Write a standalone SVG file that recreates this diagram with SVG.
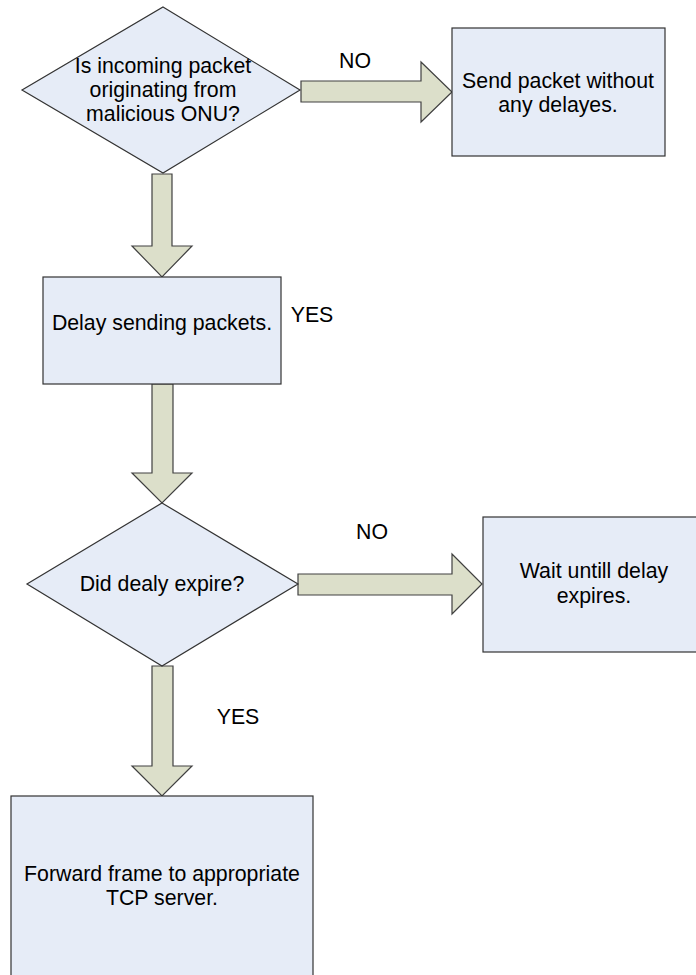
<svg xmlns="http://www.w3.org/2000/svg" width="696" height="975" viewBox="0 0 696 975">
  <style>
    .shape { fill: #E6ECF7; stroke: #333333; stroke-width: 1.2; }
    .flow { fill: #DCDFCA; stroke: #404040; stroke-width: 1.2; stroke-linejoin: miter; }
    text { font-family: "Liberation Sans", Arial, sans-serif; font-size: 21.3px; fill: #000000; }
    .c { text-anchor: middle; }
  </style>
  <rect width="696" height="975" fill="#FFFFFF"/>

  <!-- block arrows between steps -->
  <g id="connectors">
    <!-- decision 1 -> NO -> send without delay -->
    <polygon class="flow" points="301,81 421,81 421,62 452,92 421,122 421,102 301,102"/>
    <!-- decision 1 -> delay -->
    <polygon class="flow" points="152,174 172,174 172,246 192,246 162,277 132,246 152,246"/>
    <!-- delay -> decision 2 -->
    <polygon class="flow" points="152,384 173,384 173,473 192,473 162,503 132,473 152,473"/>
    <!-- decision 2 -> NO -> wait -->
    <polygon class="flow" points="298,574 452,574 452,554 482,584 452,614 452,595 298,595"/>
    <!-- decision 2 -> YES -> forward -->
    <polygon class="flow" points="152,666 173,666 173,766 192,766 162,796 132,766 152,766"/>
    <text x="355" y="68" class="c">NO</text>
    <text x="312" y="322" class="c">YES</text>
    <text x="372" y="539" class="c">NO</text>
    <text x="238" y="724" class="c">YES</text>
  </g>

  <g id="check-malicious">
    <polygon class="shape" points="163,7 300,90 163,173 22,90"/>
    <text x="163" y="73" class="c">Is incoming packet</text>
    <text x="163" y="97" class="c">originating from</text>
    <text x="163" y="121" class="c">malicious ONU?</text>
  </g>

  <g id="send-direct">
    <rect class="shape" x="452" y="28" width="213" height="128"/>
    <text x="558" y="88" class="c">Send packet without</text>
    <text x="558" y="112" class="c">any delayes.</text>
  </g>

  <g id="delay-sending">
    <rect class="shape" x="43" y="277" width="238" height="107"/>
    <text x="162" y="330" class="c">Delay sending packets.</text>
  </g>

  <g id="check-expired">
    <polygon class="shape" points="162,503 298,584 162,666 27,584"/>
    <text x="162" y="591" class="c">Did dealy expire?</text>
  </g>

  <g id="wait-delay">
    <rect class="shape" x="483" y="517" width="215" height="135"/>
    <text x="594" y="578" class="c">Wait untill delay</text>
    <text x="594" y="603" class="c">expires.</text>
  </g>

  <g id="forward-frame">
    <rect class="shape" x="11" y="796" width="302" height="185"/>
    <text x="162" y="881" class="c">Forward frame to appropriate</text>
    <text x="162" y="905" class="c">TCP server.</text>
  </g>
</svg>
